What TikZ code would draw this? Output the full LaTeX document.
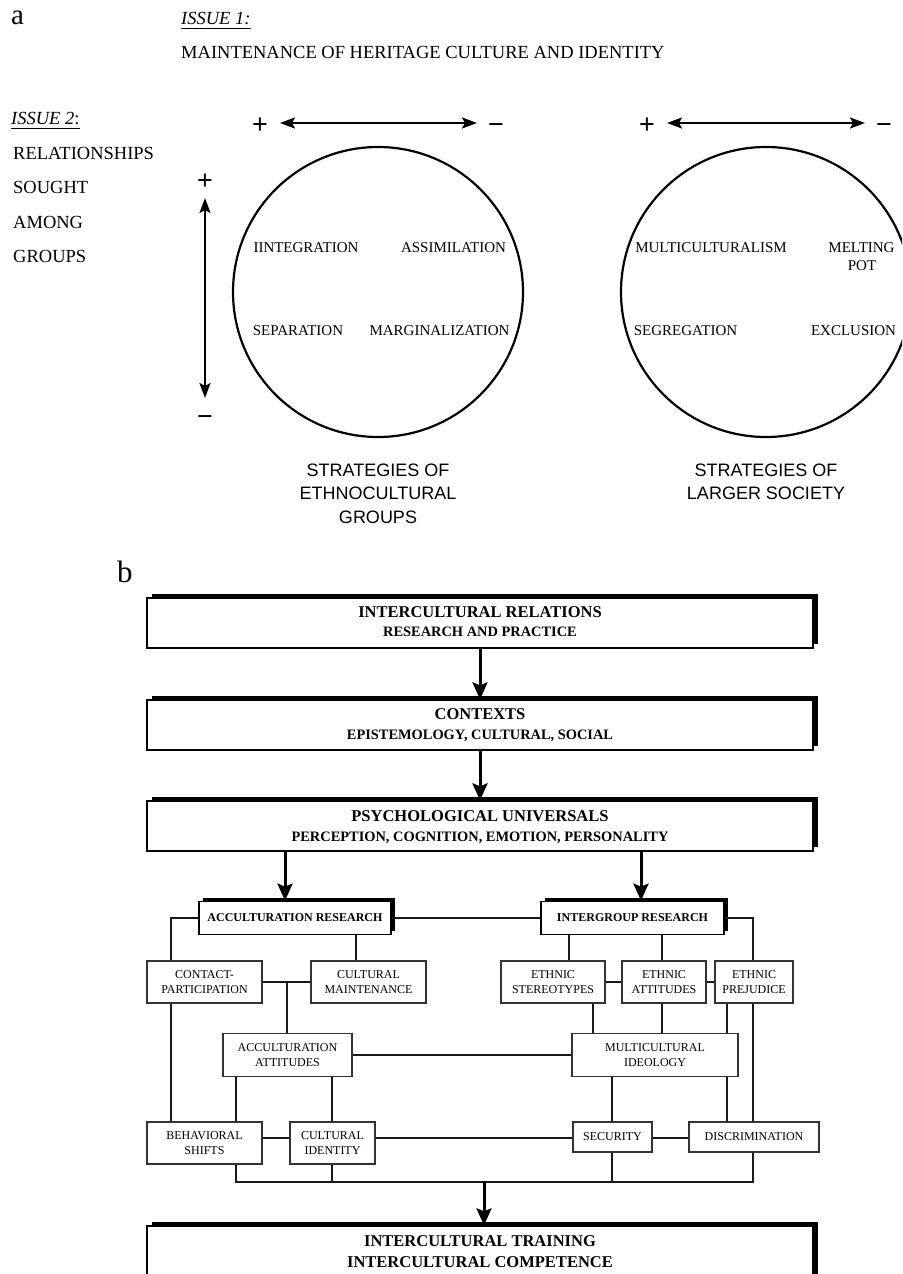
\documentclass[tikz,border=0pt]{standalone}
\usepackage{fontspec}
\setmainfont{Liberation Serif}
\setsansfont{Liberation Sans}
\usetikzlibrary{arrows.meta}
\begin{document}
\begin{tikzpicture}[x=1pt,y=-1pt,
  txt/.style={inner sep=0pt, anchor=base west, font=\fontsize{18.5}{22}\selectfont},
  lbl/.style={inner sep=0pt, anchor=base, font=\fontsize{15}{18}\selectfont},
  captxt/.style={inner sep=0pt, align=center, font=\sffamily\fontsize{18}{23.5}\selectfont},
  pm/.style={inner sep=0pt, font=\sffamily\fontsize{27}{27}\selectfont},
  harr/.style={line width=2.2pt, {Stealth[length=15pt,width=11pt,inset=3pt]}-{Stealth[length=15pt,width=11pt,inset=3pt]}},
  circ/.style={draw, circle, line width=2.2pt, minimum size=290pt, inner sep=0pt},
  bigbox/.style={draw=black, line width=1.3pt, fill=white, minimum width=666pt, minimum height=50pt, inner sep=0pt,
    preaction={fill=black, transform canvas={xshift=4.5pt,yshift=4pt}}},
  ttl/.style={inner sep=0pt, anchor=base, font=\bfseries\fontsize{16.5}{18}\selectfont},
  subt/.style={inner sep=0pt, anchor=base, font=\bfseries\fontsize{14.4}{16}\selectfont},
  sbox/.style={draw=black!80, line width=1.1pt, fill=white, inner sep=0pt, align=center, font=\fontsize{12}{15}\selectfont},
  rbox/.style={draw=black, line width=1.7pt, fill=white, inner sep=0pt, font=\bfseries\fontsize{12}{15}\selectfont,
    preaction={fill=black, transform canvas={xshift=3.5pt,yshift=3.5pt}}},
  conn/.style={line width=2pt, draw=black!90},
  bigarr/.style={line width=3pt, -{Stealth[length=17pt,width=15pt,inset=3pt]}}
]
\useasboundingbox (0,0) rectangle (902,1274);
\clip (0,0) rectangle (902,1274);

% ---------------- panel a ----------------
\node[txt, font=\fontsize{29}{29}\selectfont] (la) at (11,24) {a};
\node[txt] (iss1) at (181,24) {\itshape ISSUE 1:};
\draw[line width=0.9pt] ([yshift=-4pt]iss1.base west) -- ([yshift=-4pt]iss1.base east);
\node[txt] (maint) at (181,58) {MAINTENANCE OF HERITAGE CULTURE AND IDENTITY};

\node[txt] (iss2) at (11,124) {\textit{ISSUE 2}:};
\draw[line width=0.9pt] ([yshift=-4pt]iss2.base west) -- ([yshift=-4pt]iss2.base east);
\node[txt] (rel) at (13,159) {RELATIONSHIPS};
\node[txt] (sou) at (13,193) {SOUGHT};
\node[txt] (amo) at (13,228) {AMONG};
\node[txt] (gro) at (13,262) {GROUPS};

% horizontal arrows
\node[pm] (p1) at (260,126) {+};
\node[pm] (m1) at (496,129) {−};
\coordinate (h1a) at (280,123);
\coordinate (h1b) at (477,123);
\draw[harr] (h1a) -- (h1b);
\node[pm] (p2) at (647,126) {+};
\node[pm] (m2) at (884,129) {−};
\coordinate (h2a) at (667,123);
\coordinate (h2b) at (865,123);
\draw[harr] (h2a) -- (h2b);
% vertical arrow
\node[pm] (p3) at (205,182) {+};
\node[pm] (m3) at (205,421) {−};
\coordinate (v1a) at (205,198);
\coordinate (v1b) at (205,398);
\draw[harr] (v1a) -- (v1b);

% circles
\node[circ] (c1) at (378,292) {};
\node[circ] (c2) at (766,292) {};
\node[lbl] (integ) at (306,252) {IINTEGRATION};
\node[lbl] (assim) at (453.5,252) {ASSIMILATION};
\node[lbl] (separ) at (298,335) {SEPARATION};
\node[lbl] (margi) at (439.5,335) {MARGINALIZATION};
\node[lbl] (multi) at (711,252) {MULTICULTURALISM};
\node[lbl] (melt) at (861.5,252) {MELTING};
\node[lbl] (pot) at (862,270) {POT};
\node[lbl] (segr) at (685.5,335) {SEGREGATION};
\node[lbl] (excl) at (853.5,335) {EXCLUSION};

\node[captxt] (cap1) at (378,493.5) {STRATEGIES OF\\ETHNOCULTURAL\\GROUPS};
\node[captxt] (cap2) at (766,482) {STRATEGIES OF\\LARGER SOCIETY};

% ---------------- panel b ----------------
\node[txt, font=\fontsize{31}{31}\selectfont] (lb) at (117,582) {b};

\node[bigbox] (b1) at (480,623) {};
\node[ttl] (b1t) at (480,617.5) {INTERCULTURAL RELATIONS};
\node[subt] (b1s) at (480,636) {RESEARCH AND PRACTICE};

\node[bigbox] (b2) at (480,725) {};
\node[ttl] (b2t) at (480,719.5) {CONTEXTS};
\node[subt] (b2s) at (480,739) {EPISTEMOLOGY, CULTURAL, SOCIAL};

\node[bigbox] (b3) at (480,826) {};
\node[ttl] (b3t) at (480,821.5) {PSYCHOLOGICAL UNIVERSALS};
\node[subt] (b3s) at (480,841) {PERCEPTION, COGNITION, EMOTION, PERSONALITY};

\node[bigbox, minimum height=60pt] (b4) at (480,1256) {};
\node[ttl] (b4t) at (480,1246.5) {INTERCULTURAL TRAINING};
\node[ttl] (b4s) at (480,1267.5) {INTERCULTURAL COMPETENCE};

% research boxes
\node[rbox, minimum width=192pt, minimum height=33pt] (accres) at (295,918) {ACCULTURATION RESEARCH};
\node[rbox, minimum width=183pt, minimum height=33pt] (intres) at (632.5,918) {INTERGROUP RESEARCH};

% second row
\node[sbox, minimum width=115pt, minimum height=42pt] (contact) at (204.5,982) {CONTACT-\\PARTICIPATION};
\node[sbox, minimum width=115pt, minimum height=42pt] (cultmaint) at (368.5,982) {CULTURAL\\MAINTENANCE};
\node[sbox, minimum width=104pt, minimum height=42pt] (stereo) at (553,982) {ETHNIC\\STEREOTYPES};
\node[sbox, minimum width=84pt, minimum height=42pt] (ethatt) at (664,982) {ETHNIC\\ATTITUDES};
\node[sbox, minimum width=78pt, minimum height=42pt] (prej) at (754,982) {ETHNIC\\PREJUDICE};

% third row
\node[sbox, minimum width=129pt, minimum height=43pt] (accatt) at (287.5,1055) {ACCULTURATION\\ATTITUDES};
\node[sbox, minimum width=166pt, minimum height=43pt] (multid) at (655,1055) {MULTICULTURAL\\IDEOLOGY};

% fourth row
\node[sbox, minimum width=115pt, minimum height=42pt] (behav) at (204.5,1143) {BEHAVIORAL\\SHIFTS};
\node[sbox, minimum width=85pt, minimum height=42pt] (cultid) at (332.5,1143) {CULTURAL\\IDENTITY};
\node[sbox, minimum width=79pt, minimum height=30pt] (secur) at (612.5,1137) {SECURITY};
\node[sbox, minimum width=130pt, minimum height=30pt] (discrim) at (754,1137) {DISCRIMINATION};

% guide coordinates
\coordinate (vA) at (171,0);
\coordinate (vB) at (356,0);
\coordinate (vC) at (287,0);
\coordinate (vD) at (236,0);
\coordinate (vE) at (332,0);
\coordinate (vG) at (569,0);
\coordinate (vH) at (662,0);
\coordinate (vI) at (593,0);
\coordinate (vJ) at (727,0);
\coordinate (vK) at (753,0);
\coordinate (vL) at (612,0);
\coordinate (vM) at (484,0);
\coordinate (vN) at (285,0);
\coordinate (vO) at (641,0);
\coordinate (hR) at (0,1138);
\coordinate (hBus) at (0,1182);

% main arrows
\draw[bigarr] (b1.south) -- (b2.north);
\draw[bigarr] (b2.south) -- (b3.north);
\draw[bigarr] (vN |- b3.south) -- (vN |- accres.north);
\draw[bigarr] (vO |- b3.south) -- (vO |- intres.north);

% connectors
\draw[conn] (accres.west) -| (vA |- contact.north);
\draw[conn] (vB |- accres.south) -- (vB |- cultmaint.north);
\draw[conn] (accres.east) -- (intres.west);
\draw[conn] (intres.east) -| (vK |- prej.north);
\draw[conn] (vG |- intres.south) -- (vG |- stereo.north);
\draw[conn] (vH |- intres.south) -- (vH |- ethatt.north);

\draw[conn, line width=2.2pt] (contact.east) -- (cultmaint.west);
\draw[conn] (vC |- contact.east) -- (vC |- accatt.north);
\draw[conn, line width=2.2pt] (stereo.east) -- (ethatt.west);
\draw[conn, line width=2.2pt] (ethatt.east) -- (prej.west);

\draw[conn] (vA |- contact.south) -- (vA |- behav.north);
\draw[conn] (vI |- stereo.south) -- (vI |- multid.north);
\draw[conn] (vH |- ethatt.south) -- (vH |- multid.north);
\draw[conn] (vJ |- prej.south) -- (vJ |- multid.north);
\draw[conn] (vK |- prej.south) -- (vK |- discrim.north);

\draw[conn] (accatt.east) -- (multid.west);
\draw[conn] (vD |- accatt.south) -- (vD |- behav.north);
\draw[conn] (vE |- accatt.south) -- (vE |- cultid.north);
\draw[conn] (vL |- multid.south) -- (vL |- secur.north);
\draw[conn] (vJ |- multid.south) -- (vJ |- discrim.north);

\draw[conn] (behav.east |- hR) -- (cultid.west |- hR);
\draw[conn] (cultid.east |- hR) -- (secur.west |- hR);
\draw[conn] (secur.east |- hR) -- (discrim.west |- hR);

\draw[conn] (vD |- behav.south) |- (vK |- hBus) -- (vK |- discrim.south);
\draw[conn] (vE |- cultid.south) -- (vE |- hBus);
\draw[conn] (vL |- secur.south) -- (vL |- hBus);
\draw[bigarr] (vM |- hBus) -- (vM |- b4.north);
\end{tikzpicture}
\end{document}
